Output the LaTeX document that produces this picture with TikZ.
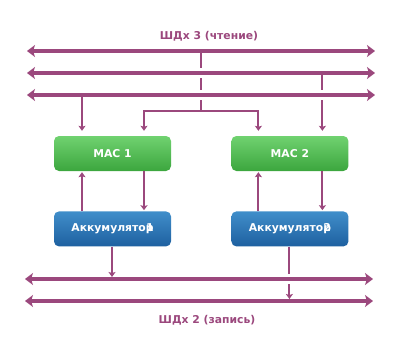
\documentclass[tikz,border=0pt]{standalone}
\usepackage{fontspec}
\setmainfont{DejaVu Sans}
\usetikzlibrary{arrows.meta,positioning,calc}
\definecolor{busc}{RGB}{155,72,125}
\definecolor{mactop}{RGB}{112,210,112}
\definecolor{macbot}{RGB}{60,166,62}
\definecolor{acctop}{RGB}{64,142,202}
\definecolor{accbot}{RGB}{30,96,160}

\begin{document}
\begin{tikzpicture}[x=1pt,y=-1pt,
  bus/.style={line width=4pt,busc,{Stealth[length=8pt,width=12pt,inset=2pt]}-{Stealth[length=8pt,width=12pt,inset=2pt]}},
  wire/.style={line width=2pt,busc},
  link/.style={wire,-{Stealth[length=5pt,width=7pt,inset=1pt]}},
  gapc/.style={line width=3pt,white},
  box/.style={rounded corners=5pt,minimum width=117pt,minimum height=35pt,inner sep=0pt,
    text=white,font=\bfseries\fontsize{10.8}{13}\selectfont},
  mac/.style={box,top color=mactop,bottom color=macbot},
  acc/.style={box,top color=acctop,bottom color=accbot},
  lbl/.style={busc,font=\bfseries\fontsize{10.8}{13}\selectfont}]
  \useasboundingbox (0,0) rectangle (400,364);
  % Blocks
  \node[mac] (mac1) at (112.5,153.5) {MAC 1};
  \node[mac,right=60pt of mac1] (mac2) {MAC 2};
  \node[acc,below=40pt of mac1] (acc1) {Аккумулятор\llap{1}};
  \node[acc,below=40pt of mac2] (acc2) {Аккумулятор\llap{2}};
  % Bus ends
  \coordinate (r1w) at (27,51);  \coordinate (r1e) at (375,51);
  \coordinate (r2w) at (27,73);  \coordinate (r2e) at (375,73);
  \coordinate (r3w) at (27,95);  \coordinate (r3e) at (375,95);
  \coordinate (w1w) at (25,279); \coordinate (w1e) at (373,279);
  \coordinate (w2w) at (25,301); \coordinate (w2e) at (373,301);
  % Ports
  \coordinate (m1a) at ($(mac1.north)+(-30.5,0)$);
  \coordinate (m1b) at ($(mac1.north)+(31.5,0)$);
  \coordinate (m2a) at ($(mac2.north)+(-31.5,0)$);
  \coordinate (m2b) at ($(mac2.north)+(32.5,0)$);
  \coordinate (a1o) at ($(acc1.south)+(-0.5,0)$);
  \coordinate (a2o) at ($(acc2.south)+(-0.5,0)$);
  \coordinate (t1) at (201,51);
  \coordinate (fork) at (201,111);
  \coordinate (t2) at (m2b |- r2w);
  \coordinate (t3) at (m1a |- r3w);
  % Crossings
  \coordinate (x1) at (t1 |- r2w);
  \coordinate (x2) at (t1 |- r3w);
  \coordinate (x3) at (t2 |- r3w);
  \coordinate (x4) at (a2o |- w1w);
  % Read bus taps
  \draw[wire] (t1) -- (fork);
  \draw[link,shorten >=5pt] (fork) -| (m1b);
  \draw[link,shorten >=5pt] (fork) -| (m2a);
  \draw[link,shorten >=5pt] (t3) -- (m1a);
  \draw[link,shorten >=5pt] (t2) -- (m2b);
  % MAC <-> accumulator
  \draw[link,shorten >=1pt] (acc1.north -| m1a) -- (mac1.south -| m1a);
  \draw[link,shorten >=1pt] (mac1.south -| m1b) -- (acc1.north -| m1b);
  \draw[link,shorten >=1pt] (acc2.north -| m2a) -- (mac2.south -| m2a);
  \draw[link,shorten >=1pt] (mac2.south -| m2b) -- (acc2.north -| m2b);
  % Write bus
  \draw[link,shorten >=2pt] (a1o) -- (a1o |- w1w);
  \draw[link,shorten >=2pt] (a2o) -- (a2o |- w2w);
  % Gaps at crossings
  \foreach \c in {x1,x2,x3,x4} {
    \draw[gapc] ([yshift=-5pt]\c) -- ([yshift=5pt]\c);
  }
  % Buses
  \draw[bus] (r1w) -- (r1e);
  \draw[bus] (r2w) -- (r2e);
  \draw[bus] (r3w) -- (r3e);
  \draw[bus] (w1w) -- (w1e);
  \draw[bus] (w2w) -- (w2e);
  \node[lbl] (rdlbl) at (209,36) {ШДх 3 (чтение)};
  \node[lbl] (wrlbl) at (207,320) {ШДх 2 (запись)};
\end{tikzpicture}
\end{document}
